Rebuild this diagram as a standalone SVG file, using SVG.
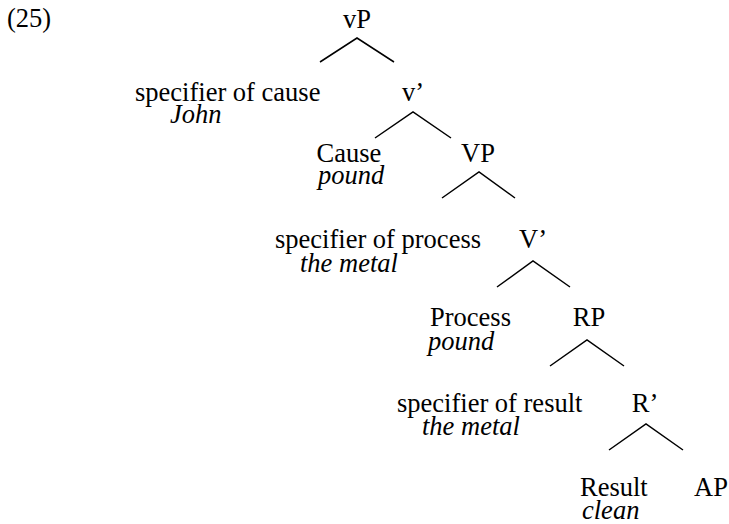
<svg xmlns="http://www.w3.org/2000/svg" width="729" height="524" viewBox="0 0 729 524">
  <style>
    text { font-family: "Liberation Serif", "Times New Roman", serif; font-size: 26.5px; fill: #000; }
    .lab { text-anchor: middle; }
    .it { font-style: italic; }
    .edge { stroke: #000; stroke-width: 1.5; fill: none; }
  </style>
  <rect width="729" height="524" fill="#fff"/>
  <text x="7" y="27">(25)</text>

  <g id="vP"><text class="lab" x="357" y="28">vP</text></g>
  <g id="spec-cause"><text x="135" y="101">specifier of cause</text><text class="it" x="170" y="123">John</text></g>
  <g id="v-bar"><text class="lab" x="413" y="101">v’</text></g>
  <g id="Cause"><text class="lab" x="349" y="162">Cause</text><text class="it" x="318" y="184">pound</text></g>
  <g id="VP"><text class="lab" x="478" y="162">VP</text></g>
  <g id="spec-process"><text x="275" y="248">specifier of process</text><text class="it" x="300" y="272">the metal</text></g>
  <g id="V-bar"><text class="lab" x="533" y="248">V’</text></g>
  <g id="Process"><text x="430" y="326">Process</text><text class="it" x="428" y="350">pound</text></g>
  <g id="RP"><text class="lab" x="589" y="326">RP</text></g>
  <g id="spec-result"><text x="397" y="412">specifier of result</text><text class="it" x="422" y="435">the metal</text></g>
  <g id="R-bar"><text class="lab" x="645" y="412">R’</text></g>
  <g id="Result"><text x="580" y="496">Result</text><text class="it" x="582" y="519">clean</text></g>
  <g id="AP"><text class="lab" x="711" y="496">AP</text></g>

  <g id="connectors">
    <polyline class="edge" points="320,62 357,38 394,62"/>
    <polyline class="edge" points="375,138 413,112 451,138"/>
    <polyline class="edge" points="442,198 479,172 515,198"/>
    <polyline class="edge" points="497,287 533,261 570,287"/>
    <polyline class="edge" points="550,366 587,340 624,366"/>
    <polyline class="edge" points="609,450 646,424 683,450"/>
  </g>
</svg>
